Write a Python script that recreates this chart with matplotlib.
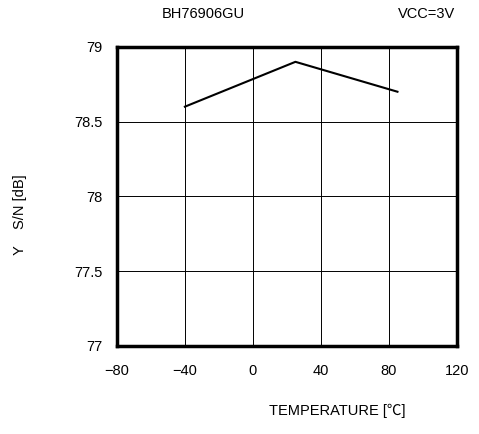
import matplotlib.pyplot as plt

temps = [-40, 25, 85]
sn_db = [78.6, 78.9, 78.7]
xticks = [-80, -40, 0, 40, 80, 120]
yticks = [77, 77.5, 78, 78.5, 79]
ytick_labels = ['77', '77.5', '78', '78.5', '79']

plt.rcParams['font.family'] = ['Liberation Sans', 'DejaVu Sans']

fig = plt.figure(figsize=(4.79, 4.34), dpi=100)
ax = fig.add_axes([0.244, 0.203, 0.710, 0.689])

ax.plot(temps, sn_db, color='black', linewidth=1.5)
ax.set_xlim(-80, 120)
ax.set_ylim(77, 79)
ax.set_xticks(xticks)
ax.set_yticks(yticks)
ax.set_yticklabels(ytick_labels)
ax.tick_params(length=0, labelsize=10.5)
ax.tick_params(axis='x', pad=13)
ax.tick_params(axis='y', pad=10)
ax.grid(True, color='black', linewidth=0.7)
for s in ax.spines.values():
    s.set_linewidth(2.5)

fig.text(203 / 479, 1 - 14 / 434, 'BH76906GU', ha='center', va='center', fontsize=10.5)
fig.text(427 / 479, 1 - 14 / 434, 'VCC=3V', ha='center', va='center', fontsize=10.5)
fig.text(20 / 479, 1 - 215 / 434, 'Y    S/N [dB]', ha='center', va='center',
         rotation=90, fontsize=10.5)
fig.text(337 / 479, 1 - 411 / 434, 'TEMPERATURE [℃]', ha='center', va='center',
         fontsize=10.5, family=['Liberation Sans', 'Noto Sans CJK JP', 'DejaVu Sans'])

fig.savefig('out.png', dpi=100)
